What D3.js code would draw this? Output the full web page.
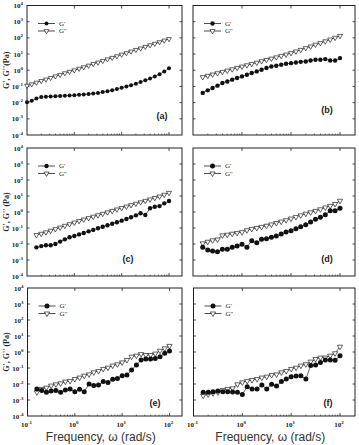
<!DOCTYPE html>
<html>
<head>
<meta charset="utf-8">
<script src="https://cdn.jsdelivr.net/npm/d3@7"></script>
<style>
  body { margin: 0; background: #fff; }
</style>
</head>
<body>
<script>
const width = 359
const height = 445

// frequencies (rad/s)
const freqA = [0.1, 0.126, 0.158, 0.2, 0.251, 0.316, 0.398, 0.501, 0.631, 0.794, 1, 1.26, 1.58, 2, 2.51, 3.16,
  3.98, 5.01, 6.31, 7.94, 10, 12.6, 15.8, 20, 25.1, 31.6, 39.8, 50.1, 63.1, 79.4, 100]
const freq = [0.158, 0.2, 0.251, 0.316, 0.398, 0.501, 0.631, 0.794, 1, 1.26, 1.58, 2, 2.51, 3.16,
  3.98, 5.01, 6.31, 7.94, 10, 12.6, 15.8, 20, 25.1, 31.6, 39.8, 50.1, 63.1, 79.4, 100]

// G' and G'' (Pa)
const gpA = [0.0107, 0.0132, 0.0178, 0.0219, 0.0234, 0.0240, 0.0251, 0.0257, 0.0263, 0.0275, 0.0288, 0.0302,
  0.0316, 0.0339, 0.0363, 0.0398, 0.0447, 0.0501, 0.0575, 0.0692, 0.0832, 0.100, 0.120, 0.148, 0.186, 0.240,
  0.309, 0.417, 0.562, 0.832, 1.32]
const gppA = [0.112, 0.138, 0.174, 0.219, 0.269, 0.339, 0.427, 0.525, 0.661, 0.813, 1.00, 1.26, 1.55, 1.95,
  2.45, 3.02, 3.80, 4.79, 5.89, 7.41, 9.33, 11.5, 14.5, 18.2, 22.4, 28.2, 35.5, 43.7, 55.0, 69.2, 85.1]

const gpB = [0.0398, 0.0575, 0.0794, 0.112, 0.162, 0.204, 0.263, 0.331, 0.417, 0.525, 0.676, 0.851, 1.07,
  1.38, 1.70, 1.91, 2.19, 2.51, 2.75, 3.02, 3.31, 3.47, 3.98, 4.47, 4.47, 4.90, 3.98, 3.98, 5.62]
const gppB = [0.380, 0.457, 0.550, 0.661, 0.794, 0.955, 1.15, 1.41, 1.70, 2.04, 2.45, 2.95, 3.63, 4.37, 5.25,
  6.31, 7.76, 9.33, 11.5, 14.5, 18.2, 23.4, 29.5, 38.0, 47.9, 61.7, 79.4, 102, 132]

const gpC = [0.00617, 0.00741, 0.00832, 0.00832, 0.0100, 0.0141, 0.0195, 0.0263, 0.0316, 0.0398, 0.0490,
  0.0617, 0.0759, 0.0955, 0.120, 0.148, 0.186, 0.229, 0.288, 0.363, 0.468, 0.617, 0.832, 0.646, 1.70, 2.14,
  2.34, 3.47, 4.90]
const gppC = [0.0363, 0.0437, 0.0537, 0.0676, 0.0851, 0.107, 0.138, 0.174, 0.219, 0.275, 0.339, 0.417, 0.513,
  0.631, 0.776, 0.955, 1.17, 1.45, 1.78, 2.19, 2.69, 3.31, 4.07, 5.01, 6.17, 7.59, 9.33, 12.0, 15.8]

const gpD = [0.00617, 0.00417, 0.00363, 0.00331, 0.00468, 0.00468, 0.00617, 0.00741, 0.00955, 0.00617, 0.0162,
  0.0120, 0.0195, 0.0214, 0.0263, 0.0316, 0.0417, 0.0562, 0.0676, 0.0912, 0.120, 0.162, 0.234, 0.347, 0.468,
  0.676, 1.20, 1.20, 1.70]
const gppD = [0.0110, 0.0138, 0.0170, 0.0191, 0.0347, 0.0380, 0.0437, 0.0490, 0.0550, 0.0724, 0.0871, 0.100,
  0.117, 0.138, 0.166, 0.204, 0.251, 0.309, 0.389, 0.490, 0.617, 0.776, 0.955, 1.17, 1.48, 1.91, 2.40, 3.16, 5.01]

const gpE = [0.00490, 0.00398, 0.00302, 0.00363, 0.00398, 0.00302, 0.00417, 0.00490, 0.00331, 0.00468, 0.00331,
  0.0100, 0.00794, 0.00871, 0.0141, 0.0126, 0.0195, 0.0224, 0.0331, 0.0363, 0.0741, 0.155, 0.316, 0.363, 0.363,
  0.398, 0.513, 0.832, 1.15]
const gppE = [0.00302, 0.00490, 0.00589, 0.00794, 0.00955, 0.0110, 0.0141, 0.0155, 0.0204, 0.0251, 0.0331,
  0.0398, 0.0537, 0.0646, 0.0871, 0.105, 0.141, 0.170, 0.224, 0.316, 0.513, 0.589, 0.741, 0.646, 0.646, 0.794,
  1.20, 1.70, 2.40]

const gpF = [0.00302, 0.00302, 0.00331, 0.00363, 0.00331, 0.00331, 0.00316, 0.00302, 0.00224, 0.00676, 0.00490,
  0.00490, 0.00871, 0.00490, 0.00955, 0.00741, 0.0141, 0.0204, 0.0288, 0.0316, 0.0331, 0.0204, 0.141, 0.155,
  0.224, 0.316, 0.316, 0.302, 0.589]
const gppF = [0.00186, 0.00224, 0.00263, 0.00302, 0.00417, 0.00490, 0.00537, 0.00955, 0.0126, 0.0155, 0.0178,
  0.0204, 0.0251, 0.0288, 0.0363, 0.0398, 0.0537, 0.0646, 0.0871, 0.105, 0.141, 0.170, 0.251, 0.363, 0.447,
  0.447, 0.589, 0.832, 2.14]

const xTicks = [0.1, 1, 10, 100]
const yTicks = [1e-4, 1e-3, 1e-2, 1e-1, 1, 1e1, 1e2, 1e3, 1e4]
const seriesNames = ["G'", "G''"]
const xTitle = 'Frequency, \u03c9 (rad/s)'

const panels = [
  {label: '(a)', f: freqA, gp: gpA, gpp: gppA, left: 27, x100: 169, right: 182, top: 5.5, bottom: 135,
    lx: 162, ly: 119, r: 2.0, tri: 10, yTitle: "G', G''(Pa)", yLabels: true, xLabels: false},
  {label: '(b)', f: freq, gp: gpB, gpp: gppB, left: 193, x100: 340, right: 355, top: 5.5, bottom: 135,
    lx: 327, ly: 113, r: 2.2, tri: 11, yLabels: false, xLabels: false},
  {label: '(c)', f: freq, gp: gpC, gpp: gppC, left: 27, x100: 169, right: 182, top: 148, bottom: 276,
    lx: 128, ly: 262, r: 2.2, tri: 11, yTitle: "G', G'' (Pa)", yLabels: true, xLabels: false},
  {label: '(d)', f: freq, gp: gpD, gpp: gppD, left: 193, x100: 340, right: 355, top: 148, bottom: 276,
    lx: 327, ly: 262, r: 2.5, tri: 12, yLabels: false, xLabels: false},
  {label: '(e)', f: freq, gp: gpE, gpp: gppE, left: 27.5, x100: 169.5, right: 182, top: 288, bottom: 416,
    lx: 155, ly: 406, r: 2.5, tri: 12, yTitle: "G', G'' (Pa)", yLabels: true, xLabels: true},
  {label: '(f)', f: freq, gp: gpF, gpp: gppF, left: 193.5, x100: 340, right: 355, top: 288, bottom: 416,
    lx: 328, ly: 406, r: 2.5, tri: 12, yLabels: false, xLabels: true}
]

const svg = d3.select('body')
  .append('svg')
  .attr('width', width)
  .attr('height', height)
  .style('font-family', '"Liberation Serif", serif')

const ink = '#222'

// minor tick positions for log axes
const minorX = []
for (let e = -1; e <= 1; e++) for (let m = 2; m <= 9; m++) minorX.push(m * Math.pow(10, e))

function supLabel (sel, exp) {
  sel.append('tspan').text('10')
  sel.append('tspan').attr('dy', -3).attr('font-size', 5).text(exp)
}

panels.forEach((p) => {
  const x = d3.scaleLog().domain([0.1, 100]).range([p.left, p.x100])
  const y = d3.scaleLog().domain([1e-4, 1e4]).range([p.bottom, p.top])
  const g = svg.append('g')

  // frame
  g.append('rect')
    .attr('x', p.left).attr('y', p.top)
    .attr('width', p.right - p.left).attr('height', p.bottom - p.top)
    .attr('fill', 'none').attr('stroke', ink).attr('stroke-width', 1)

  // ticks, inward
  const majorX = xTicks.filter((d) => d > 0.1)
  g.selectAll('.xt').data(majorX).enter().append('line')
    .attr('x1', (d) => x(d)).attr('x2', (d) => x(d))
    .attr('y1', p.bottom).attr('y2', p.bottom - 3)
    .attr('stroke', ink).attr('stroke-width', 0.8)
  g.selectAll('.xtt').data(majorX).enter().append('line')
    .attr('x1', (d) => x(d)).attr('x2', (d) => x(d))
    .attr('y1', p.top).attr('y2', p.top + 3)
    .attr('stroke', ink).attr('stroke-width', 0.8)
  g.selectAll('.xm').data(minorX).enter().append('line')
    .attr('x1', (d) => x(d)).attr('x2', (d) => x(d))
    .attr('y1', p.bottom).attr('y2', p.bottom - 1.5)
    .attr('stroke', ink).attr('stroke-width', 0.6)
  g.selectAll('.yt').data(yTicks.slice(1, -1)).enter().append('line')
    .attr('x1', p.left).attr('x2', p.left + 2.5)
    .attr('y1', (d) => y(d)).attr('y2', (d) => y(d))
    .attr('stroke', ink).attr('stroke-width', 0.8)
  g.selectAll('.ytr').data(yTicks.slice(1, -1)).enter().append('line')
    .attr('x1', p.right).attr('x2', p.right - 2.5)
    .attr('y1', (d) => y(d)).attr('y2', (d) => y(d))
    .attr('stroke', ink).attr('stroke-width', 0.8)

  if (p.yLabels) {
    yTicks.forEach((d) => {
      const t = g.append('text')
        .attr('x', p.left - 4).attr('y', y(d) + 2.5)
        .attr('text-anchor', 'end')
        .attr('font-size', 7).attr('font-weight', 'bold').attr('fill', ink)
      supLabel(t, String(Math.round(Math.log10(d))))
    })
    g.append('text')
      .attr('transform', `translate(9, ${(p.top + p.bottom) / 2}) rotate(-90)`)
      .attr('text-anchor', 'middle')
      .attr('font-size', 8).attr('font-weight', 'bold').attr('fill', ink)
      .text(p.yTitle)
  }

  if (p.xLabels) {
    xTicks.forEach((d) => {
      const t = g.append('text')
        .attr('x', x(d) - 1).attr('y', p.bottom + 11)
        .attr('text-anchor', 'middle')
        .attr('font-size', 7).attr('font-weight', 'bold').attr('fill', ink)
      supLabel(t, String(Math.round(Math.log10(d))))
    })
    g.append('text')
      .attr('x', (p.left + p.right) / 2 - 4).attr('y', p.bottom + 25)
      .attr('text-anchor', 'middle')
      .attr('font-family', '"Liberation Sans", Arial, sans-serif')
      .attr('font-size', 12).attr('fill', '#333')
      .text(xTitle)
  }

  const line = d3.line()
    .x((d) => x(d[0]))
    .y((d) => y(d[1]))

  const gppData = p.f.map((f, i) => [f, p.gpp[i]])
  const gpData = p.f.map((f, i) => [f, p.gp[i]])

  const tri = d3.symbol().type(d3.symbolTriangle).size(p.tri)
  const circ = d3.symbol().type(d3.symbolCircle).size(Math.PI * p.r * p.r)

  g.append('path').datum(gppData).attr('d', line)
    .attr('fill', 'none').attr('stroke', ink).attr('stroke-width', 0.7)
  g.selectAll('.tri').data(gppData).enter().append('path')
    .attr('d', tri)
    .attr('transform', (d) => `translate(${x(d[0])}, ${y(d[1])}) rotate(180)`)
    .attr('fill', '#fff').attr('stroke', ink).attr('stroke-width', 0.7)

  g.append('path').datum(gpData).attr('d', line)
    .attr('fill', 'none').attr('stroke', ink).attr('stroke-width', 0.7)
  g.selectAll('.circ').data(gpData).enter().append('path')
    .attr('d', circ)
    .attr('transform', (d) => `translate(${x(d[0])}, ${y(d[1])})`)
    .attr('fill', '#111')

  // legend
  const lx0 = p.left + 11
  const lx1 = p.left + 28
  const ly = [p.top + 18, p.top + 25.5]
  seriesNames.forEach((name, i) => {
    g.append('line')
      .attr('x1', lx0).attr('x2', lx1).attr('y1', ly[i]).attr('y2', ly[i])
      .attr('stroke', ink).attr('stroke-width', 0.8)
    g.append('path')
      .attr('d', i === 0 ? circ : tri)
      .attr('transform', `translate(${(lx0 + lx1) / 2}, ${ly[i]})` + (i === 1 ? ' rotate(180)' : ''))
      .attr('fill', i === 0 ? '#111' : '#fff')
      .attr('stroke', i === 0 ? 'none' : ink).attr('stroke-width', 0.7)
    g.append('text')
      .attr('x', lx1 + 4).attr('y', ly[i] + 2.3)
      .attr('font-size', 7).attr('fill', ink)
      .text(name)
  })

  g.append('text')
    .attr('x', p.lx).attr('y', p.ly)
    .attr('text-anchor', 'middle')
    .attr('font-family', '"Liberation Sans", Arial, sans-serif')
    .attr('font-size', 9).attr('font-weight', 'bold').attr('fill', ink)
    .text(p.label)
})
</script>
</body>
</html>
